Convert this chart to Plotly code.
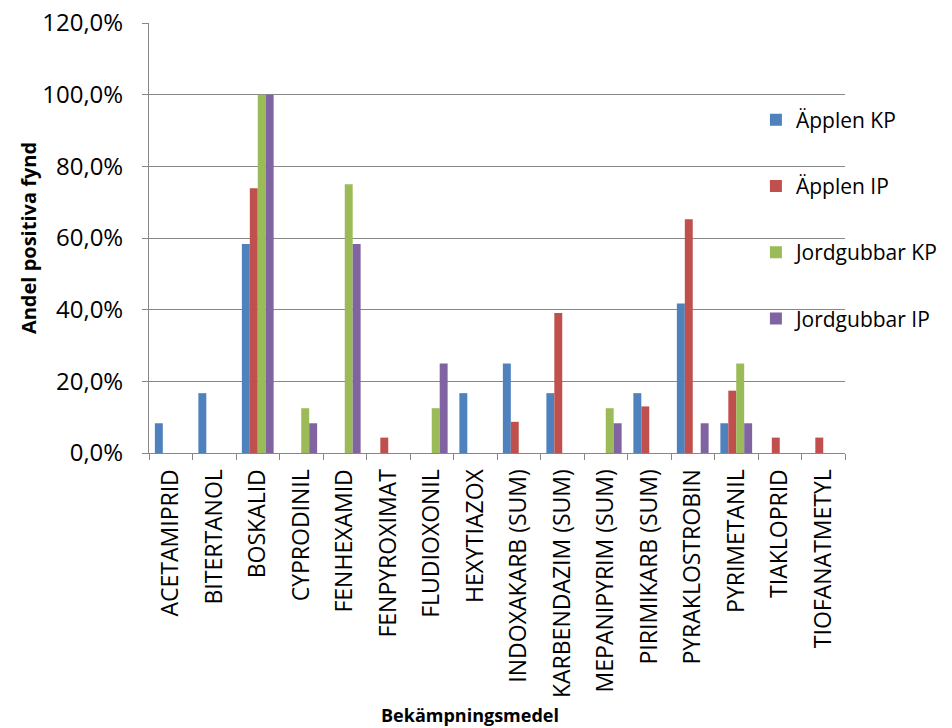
import plotly.graph_objects as go

# Pesticides (x categories)
substances = [
    "ACETAMIPRID", "BITERTANOL", "BOSKALID", "CYPRODINIL", "FENHEXAMID",
    "FENPYROXIMAT", "FLUDIOXONIL", "HEXYTIAZOX", "INDOXAKARB (SUM)",
    "KARBENDAZIM (SUM)", "MEPANIPYRIM (SUM)", "PIRIMIKARB (SUM)",
    "PYRAKLOSTROBIN", "PYRIMETANIL", "TIAKLOPRID", "TIOFANATMETYL",
]

# Share of samples with positive findings (fraction)
applen_kp = [0.083, 0.167, 0.583, 0, 0, 0, 0, 0.167, 0.25, 0.167, 0, 0.167, 0.417, 0.083, 0, 0]
applen_ip = [0, 0, 0.739, 0, 0, 0.043, 0, 0, 0.087, 0.391, 0, 0.13, 0.652, 0.174, 0.043, 0.043]
jordgubbar_kp = [0, 0, 1.0, 0.125, 0.75, 0, 0.125, 0, 0, 0, 0.125, 0, 0, 0.25, 0, 0]
jordgubbar_ip = [0, 0, 1.0, 0.083, 0.583, 0, 0.25, 0, 0, 0, 0.083, 0, 0.083, 0.083, 0, 0]

series = [
    ("Äpplen KP", applen_kp, "#4F81BD"),
    ("Äpplen IP", applen_ip, "#C0504D"),
    ("Jordgubbar KP", jordgubbar_kp, "#9BBB59"),
    ("Jordgubbar IP", jordgubbar_ip, "#8064A2"),
]

FONT = "Open Sans, Liberation Sans, sans-serif"
AXIS_GREY = "#878787"

fig = go.Figure()
for i, (name, vals, color) in enumerate(series):
    fig.add_trace(go.Bar(
        x=substances, y=vals, name=name, legendgroup=f"g{i}",
        marker=dict(color=color, line=dict(width=0)),
    ))

fig.update_layout(
    width=952, height=728,
    margin=dict(l=149, r=107, t=23, b=275, autoexpand=False),
    paper_bgcolor="white", plot_bgcolor="white",
    separators=", ",
    barmode="group", bargap=0.27, bargroupgap=0,
    font=dict(family=FONT, size=23, color="black"),
    showlegend=True,
    legend=dict(
        x=0.872, xanchor="left", y=0.822, yanchor="top",
        bgcolor="rgba(0,0,0,0)", traceorder="grouped",
        tracegroupgap=36, font=dict(size=21),
        itemwidth=30,
    ),
    annotations=[dict(
        text="<b>Bekämpningsmedel</b>", xref="paper", yref="paper",
        x=0.461, y=0, yshift=-262, xanchor="center", yanchor="middle",
        showarrow=False, font=dict(size=18),
    )],
)

fig.update_yaxes(
    range=[0, 1.2], dtick=0.2, tickformat=".1%",
    showgrid=True, gridcolor=AXIS_GREY, gridwidth=1,
    showline=True, linecolor=AXIS_GREY, linewidth=1,
    ticks="outside", ticklen=6, tickcolor=AXIS_GREY,
    ticklabelstandoff=14, zeroline=False, tickfont=dict(size=24),
    automargin=False,
    title=dict(text="<b>Andel positiva fynd</b>", font=dict(size=20), standoff=0),
)

fig.update_xaxes(
    showline=True, linecolor=AXIS_GREY, linewidth=1,
    ticks="outside", ticklen=6, tickcolor=AXIS_GREY, tickson="boundaries",
    tickangle=-90, tickfont=dict(size=23), ticklabelstandoff=6,
    showgrid=False, automargin=False,
)

fig.write_html("out.html")
